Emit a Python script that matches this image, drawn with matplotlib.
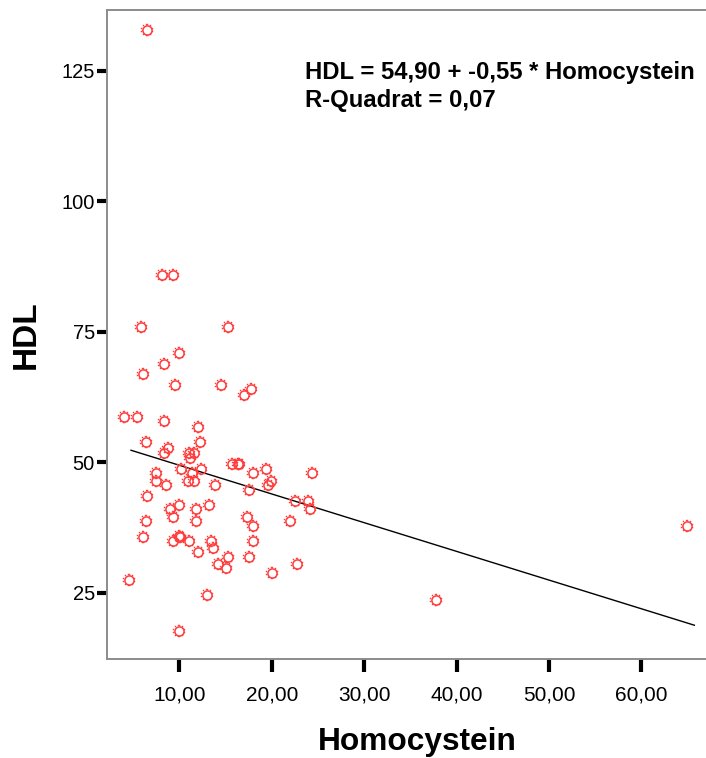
import numpy as np
import matplotlib
matplotlib.use("Agg")
import matplotlib.pyplot as plt
from matplotlib.path import Path
from matplotlib.ticker import FixedLocator, FuncFormatter

plt.rcParams['font.family'] = ['Liberation Sans', 'DejaVu Sans']

# Homocystein (x) and HDL (y) for each subject
homocystein = [
    6.54, 8.10, 9.29, 5.85, 15.24, 9.97, 8.38, 6.10, 9.53, 14.51,
    17.76, 17.03, 4.02, 5.45, 8.38, 12.06, 6.36, 12.24, 8.81, 8.38,
    11.08, 11.62, 11.15, 10.18, 12.35, 7.48, 7.48, 8.56, 10.91, 11.62,
    13.86, 15.67, 16.32, 16.49, 17.94, 19.38, 19.92, 19.57, 17.58, 24.33,
    22.52, 23.90, 24.15, 21.98, 22.71, 20.06, 6.50, 8.99, 9.97, 9.29,
    11.81, 13.21, 11.81, 6.36, 6.10, 9.29, 9.97, 10.08, 11.08, 13.43,
    13.61, 12.06, 17.29, 17.94, 17.94, 17.58, 15.24, 14.22, 15.02, 4.56,
    12.97, 9.97, 37.78, 64.98, 11.34,
]
hdl = [
    132.8, 85.8, 85.8, 75.9, 75.9, 70.9, 68.8, 66.8, 64.7, 64.7,
    64.0, 62.9, 58.6, 58.6, 57.8, 56.8, 53.9, 53.9, 52.7, 51.7,
    51.7, 51.7, 50.8, 48.7, 48.7, 48.0, 46.4, 45.7, 46.4, 46.4,
    45.7, 49.6, 49.6, 49.6, 48.0, 48.7, 46.4, 45.7, 44.7, 48.0,
    42.6, 42.6, 41.0, 38.8, 30.5, 28.7, 43.6, 41.0, 41.8, 39.5,
    41.0, 41.8, 38.8, 38.8, 35.7, 34.9, 35.9, 35.7, 34.9, 34.9,
    33.6, 32.8, 39.5, 37.8, 34.9, 31.9, 31.9, 30.5, 29.8, 27.4,
    24.6, 17.6, 23.6, 37.8, 48.0,
]

# Linear fit reported by the regression
intercept = 54.90
slope = -0.55
r_squared = 0.07
fit_range = [4.77, 65.74]

x_ticks = [10, 20, 30, 40, 50, 60]
y_ticks = [25, 50, 75, 100, 125]
x_limits = [2.14, 67.0]
y_limits = [12.27, 136.65]


def de_num(v, decimals):
    return f"{v:.{decimals}f}".replace(".", ",")


def gear_teeth(n=10, r=1.0, h=0.13):
    verts, codes = [], []
    for k in range(n):
        a = 2 * np.pi * k / n + np.pi / 2
        cx, cy = r * np.cos(a), r * np.sin(a)
        verts += [(cx - h, cy - h), (cx + h, cy - h), (cx + h, cy + h),
                  (cx - h, cy + h), (cx - h, cy - h)]
        codes += [Path.MOVETO, Path.LINETO, Path.LINETO, Path.LINETO, Path.CLOSEPOLY]
    return Path(verts, codes)


fig = plt.figure(figsize=(7.06, 7.58), dpi=100)
ax = fig.add_axes([106.7 / 706, 1 - 659 / 758, (706 - 106.7) / 706, (659 - 10) / 758])

red = "#ff3b3b"
ax.plot(homocystein, hdl, linestyle="none", marker="o", markersize=6.6,
        markerfacecolor="none", markeredgecolor=red, markeredgewidth=1.1, zorder=3)
ax.plot(homocystein, hdl, linestyle="none", marker=gear_teeth(), markersize=9.0,
        markerfacecolor=red, markeredgecolor=red, markeredgewidth=0.3, zorder=3)

fx = np.linspace(fit_range[0], fit_range[1], 200)
ax.plot(fx, intercept + slope * fx, color="black", linewidth=1.0, zorder=2)

ax.set_xlim(*x_limits)
ax.set_ylim(*y_limits)
ax.xaxis.set_major_locator(FixedLocator(x_ticks))
ax.yaxis.set_major_locator(FixedLocator(y_ticks))
ax.xaxis.set_major_formatter(FuncFormatter(lambda v, p: de_num(v, 2)))
ax.yaxis.set_major_formatter(FuncFormatter(lambda v, p: f"{v:.0f}"))

for side in ("left", "bottom", "top"):
    ax.spines[side].set_color("#8c8c8c")
    ax.spines[side].set_linewidth(1.4)
ax.spines["right"].set_visible(False)

ax.tick_params(axis="x", direction="out", length=9, width=3, color="black",
               labelsize=15, pad=10)
ax.tick_params(axis="y", direction="out", length=7.5, width=3, color="black",
               labelsize=14.5, pad=1)

ax.set_xlabel("Homocystein", fontsize=22.8, fontweight="bold")
ax.xaxis.set_label_coords((417 - 106.7) / (706 - 106.7), -(742 - 659) / (659 - 10),
                          transform=ax.transAxes)
ax.xaxis.label.set_va("center")
ax.set_ylabel("HDL", fontsize=24, fontweight="bold", labelpad=14)

fig.text(305 / 706, 1 - 72 / 758,
         f"HDL = {de_num(intercept, 2)} + {de_num(slope, 2)} * Homocystein",
         fontsize=17.2, fontweight="bold", ha="left", va="center")
fig.text(305 / 706, 1 - 101 / 758, f"R-Quadrat = {de_num(r_squared, 2)}",
         fontsize=17.2, fontweight="bold", ha="left", va="center")

fig.savefig("out.png", dpi=100)
